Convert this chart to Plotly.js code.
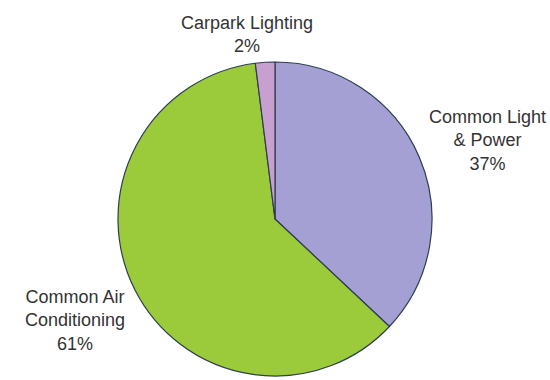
<!DOCTYPE html>
<html>
<head>
<meta charset="utf-8">
<script src="https://cdn.plot.ly/plotly-3.0.1.min.js"></script>
<style>html,body{margin:0;padding:0;background:#fff;}#chart{width:550px;height:380px;}</style>
</head>
<body>
<div id="chart"></div>
<script>
const categories = ["Common Light & Power", "Common Air Conditioning", "Carpark Lighting"];
const displayLabels = ["Common Light<br>& Power", "Common Air<br>Conditioning", "Carpark Lighting"];
const values = [37, 61, 2];
const colors = ["#a4a0d4", "#9bcb3b", "#c8a0d0"];
const labelPos = [[487, 140], [75, 320], [247, 34]];

const annotations = categories.map((c, i) => ({
  x: labelPos[i][0] / 550,
  y: 1 - labelPos[i][1] / 380,
  xref: "paper", yref: "paper",
  xanchor: "center", yanchor: "middle",
  showarrow: false,
  align: "center",
  text: displayLabels[i] + "<br>" + values[i] + "%",
  font: {family: "Liberation Sans, Arial, sans-serif", size: 18, color: "#333"}
}));

const cx = 275, cy = 219, r = 157;
const trace = {
  type: "pie",
  labels: categories,
  values: values,
  sort: false,
  direction: "clockwise",
  rotation: 0,
  textinfo: "none",
  hoverinfo: "label+percent",
  marker: {colors: colors, line: {color: "#2c3e50", width: 1.2}},
  domain: {x: [(cx - r) / 550, (cx + r) / 550], y: [1 - (cy + r) / 380, 1 - (cy - r) / 380]},
  showlegend: false
};

Plotly.newPlot("chart", [trace], {
  width: 550, height: 380,
  margin: {l: 0, r: 0, t: 0, b: 0},
  paper_bgcolor: "#fff",
  annotations: annotations,
  showlegend: false
}, {displayModeBar: false, staticPlot: true});
</script>
</body>
</html>
